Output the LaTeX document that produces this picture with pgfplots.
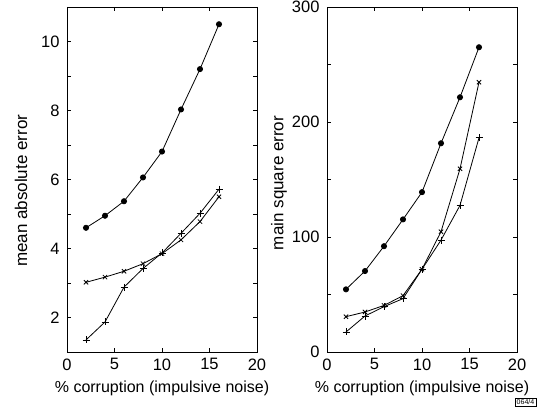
\documentclass[border=0pt]{standalone}
\usepackage{pgfplots}
\pgfplotsset{compat=1.18}
\usepackage{fontspec}
\setmainfont{Liberation Sans}

\pgfplotsset{
  panel/.style={
    scale only axis,
    width=190pt, height=345pt,
    anchor=south west,
    xmin=0, xmax=20,
    xtick={0,5,10,15,20},
    tick align=inside,
    major tick length=4pt,
    minor tick length=4pt,
    axis line style={line width=0.8pt},
    every tick/.style={black, line width=0.6pt},
    tick label style={font=\fontsize{16.5}{19}\selectfont},
    xticklabel style={yshift=-3pt},
    yticklabel style={xshift=-4pt},
    /pgf/number format/assume math mode=true,
    xlabel={\% corruption (impulsive noise)},
    every axis x label/.style={at={(axis description cs:0.5,-0.104)},
      anchor=center, font=\fontsize{16}{19}\selectfont},
    every axis plot/.append style={black, line width=0.8pt},
  },
}

\begin{document}
\begin{tikzpicture}
\useasboundingbox (0,0) rectangle (538pt,416pt);

\begin{axis}[panel, at={(67pt,64pt)},
  ymin=1, ymax=11,
  ytick={2,4,6,8,10},
  minor ytick={1,3,5,7,9,11},
  ylabel={mean absolute error},
  every axis y label/.style={at={(axis description cs:-0.242,0.467)},
    rotate=90, anchor=center, font=\fontsize{17}{19}\selectfont}]
\addplot[mark=*, mark size=2.6pt] coordinates {
  (2,4.60) (4,4.95) (6,5.37) (8,6.06) (10,6.81) (12,8.03) (14,9.20) (16,10.50)};
\addplot[mark=x, mark size=3pt] coordinates {
  (2,3.02) (4,3.17) (6,3.34) (8,3.56) (10,3.85) (12,4.25) (14,4.78) (16,5.50)};
\addplot[mark=+, mark size=3.5pt] coordinates {
  (2,1.35) (4,1.87) (6,2.88) (8,3.42) (10,3.87) (12,4.44) (14,5.02) (16,5.72)};
\end{axis}

\begin{axis}[panel, at={(327pt,64pt)},
  ymin=0, ymax=300,
  ytick={0,100,200,300},
  minor ytick={50,150,250},
  ylabel={main square error},
  every axis y label/.style={at={(axis description cs:-0.253,0.49)},
    rotate=90, anchor=center, font=\fontsize{17}{19}\selectfont}]
\addplot[mark=*, mark size=2.6pt] coordinates {
  (2,54.5) (4,70.4) (6,92) (8,115.3) (10,139) (12,181.5) (14,221.5) (16,265)};
\addplot[mark=x, mark size=3pt] coordinates {
  (2,30.7) (4,34.8) (6,40.5) (8,49) (10,72) (12,104.6) (14,159.3) (16,234.6)};
\addplot[mark=+, mark size=3.5pt] coordinates {
  (2,17.4) (4,31.3) (6,39.4) (8,46.4) (10,72) (12,97.3) (14,127.5) (16,186.3)};
\end{axis}

\node[draw, line width=0.5pt, inner sep=1.5pt, font=\fontsize{7}{8}\selectfont, anchor=north east]
  at (536pt,18pt) {064/4};
\end{tikzpicture}
\end{document}
